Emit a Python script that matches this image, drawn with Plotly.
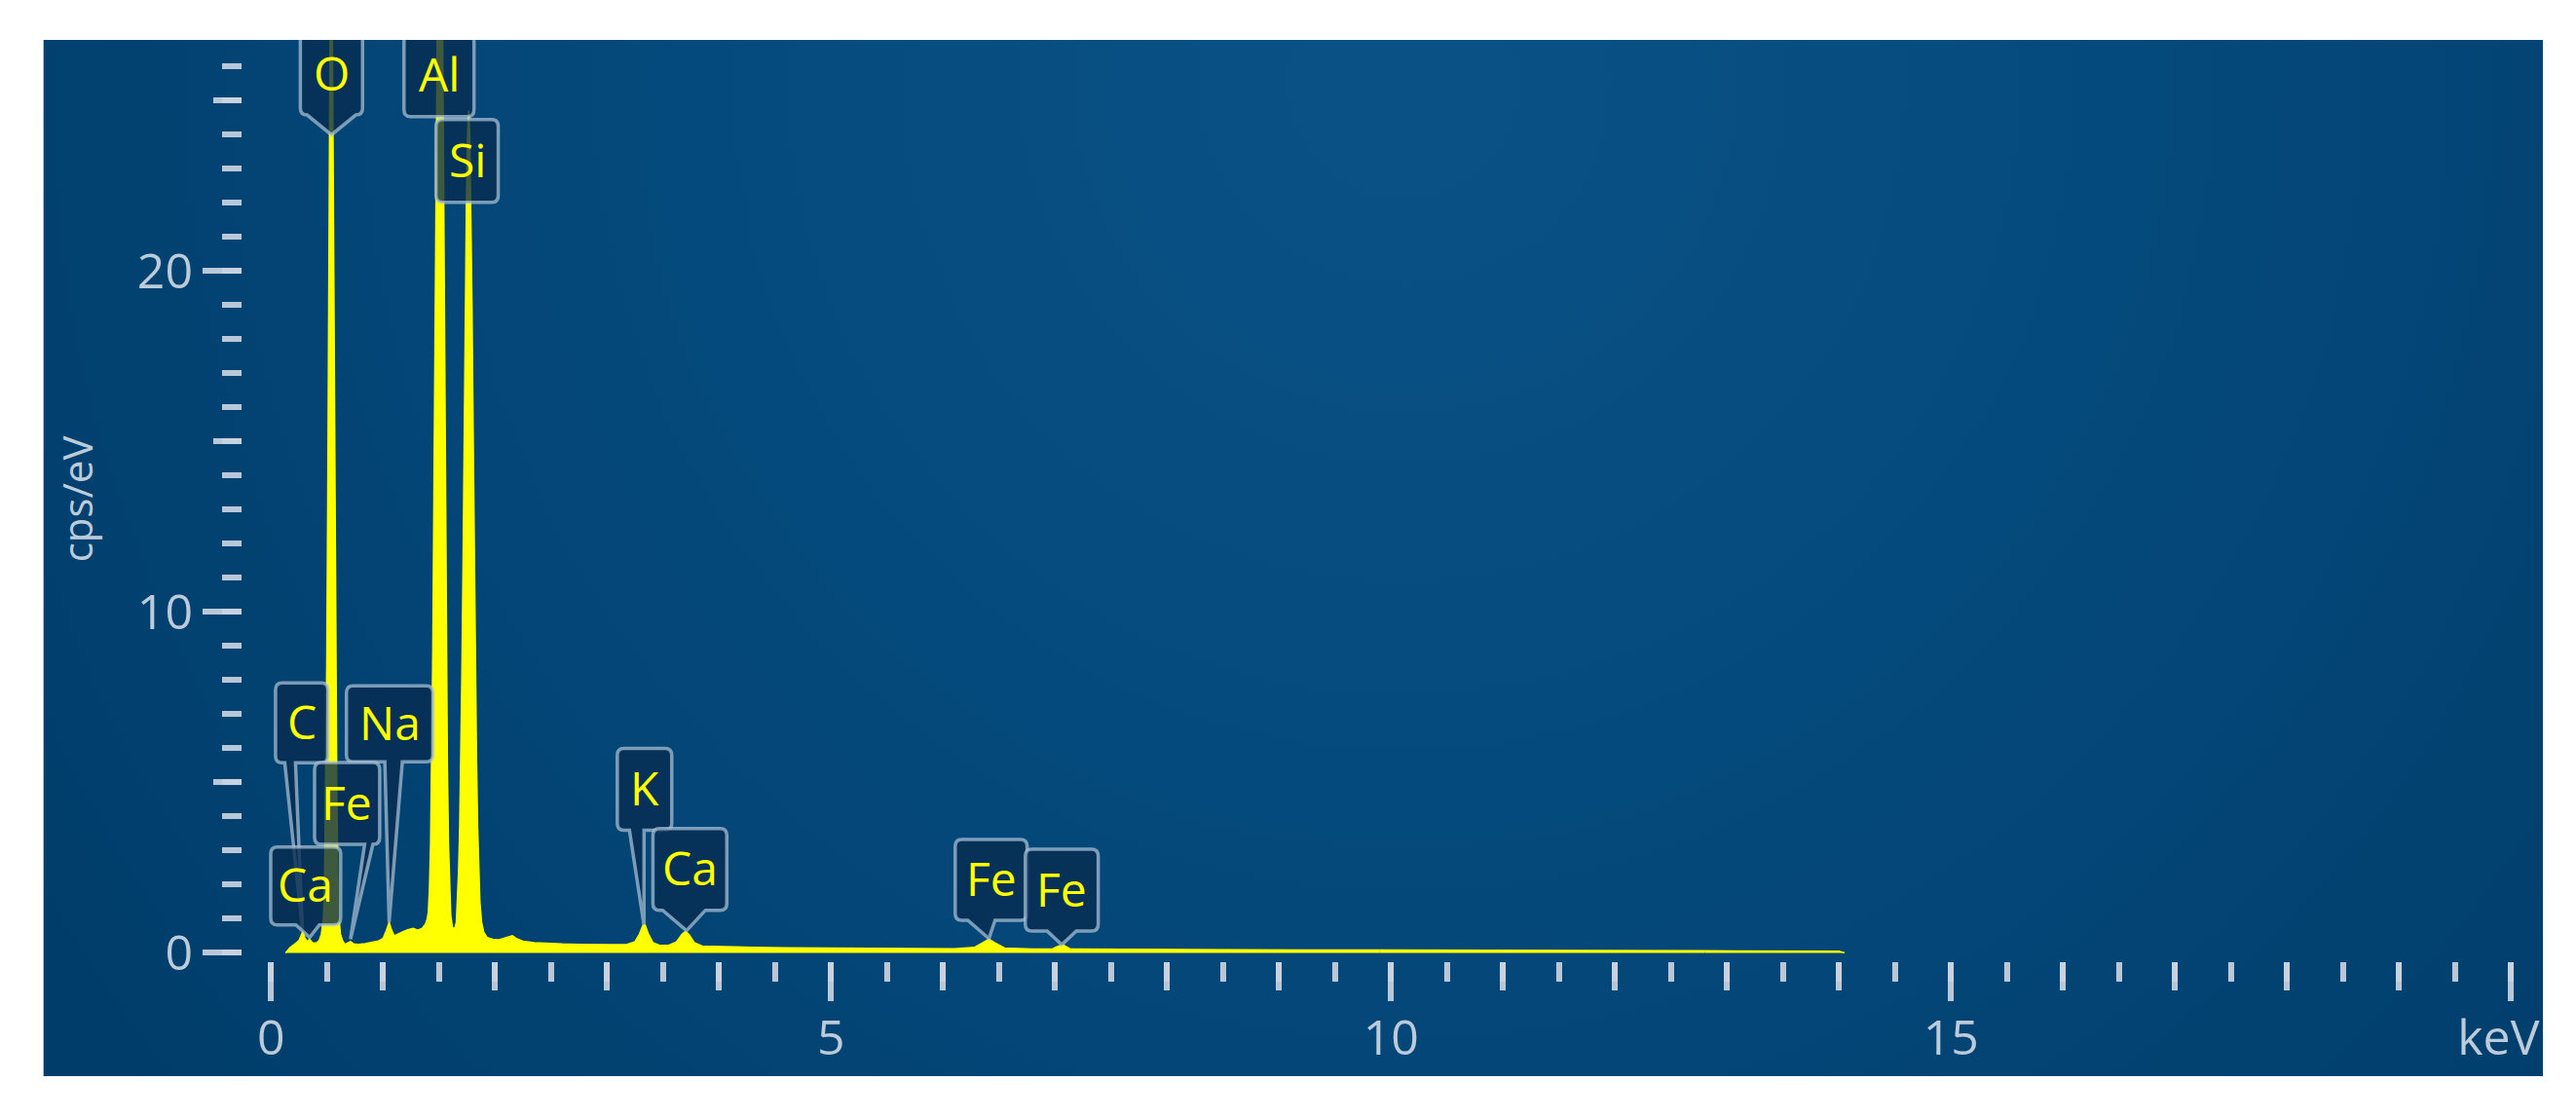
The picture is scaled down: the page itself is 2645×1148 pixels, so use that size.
import base64
import plotly.graph_objects as go

# ---------------- data ----------------
energy_kev = [
    0.13, 0.145, 0.17, 0.21, 0.25, 0.27, 0.285, 0.30, 0.32, 0.345, 0.37, 0.40, 0.43, 0.45,
    0.468, 0.478, 0.488, 0.498, 0.508, 0.518, 0.528, 0.538, 0.548, 0.558, 0.568, 0.578,
    0.588, 0.598, 0.608, 0.62, 0.64, 0.66, 0.69, 0.71, 0.74, 0.78, 0.84, 0.90, 0.96, 1.0,
    1.03, 1.055, 1.075, 1.10, 1.14, 1.18, 1.22, 1.27, 1.31, 1.35, 1.38, 1.395,
    1.405, 1.415, 1.425, 1.435, 1.445, 1.455, 1.465, 1.475, 1.485, 1.495, 1.505, 1.515,
    1.525, 1.535, 1.545, 1.555, 1.565, 1.575, 1.585, 1.595, 1.605, 1.62, 1.64,
    1.655, 1.665, 1.675, 1.685, 1.695, 1.705, 1.715, 1.725, 1.735, 1.745, 1.755, 1.765,
    1.775, 1.785, 1.795, 1.805, 1.815, 1.825, 1.835, 1.845, 1.855, 1.865, 1.88, 1.90,
    1.93, 1.98, 2.03, 2.08, 2.12, 2.155, 2.19, 2.25, 2.35, 2.45, 2.6, 2.75, 2.9, 3.05,
    3.18, 3.25, 3.29, 3.32, 3.34, 3.37, 3.41, 3.47, 3.55, 3.62, 3.67, 3.70, 3.73, 3.78,
    3.85, 4.0, 4.3, 4.6, 5.0, 5.4, 5.8, 6.1, 6.28, 6.36, 6.41, 6.46, 6.55, 6.8, 6.98,
    7.03, 7.08, 7.14, 7.5, 8.0, 8.6, 9.2, 9.9, 10.5, 11.2, 12.0, 12.8, 13.4, 14.0, 14.05,
]
cps_per_ev = [
    0.0, 0.05, 0.15, 0.25, 0.36, 0.52, 0.63, 0.46, 0.34, 0.40, 0.30, 0.28, 0.36, 0.55,
    1.0, 2.0, 4.6, 8.5, 14.0, 20.6, 27.3, 34.0, 27.3, 20.6, 14.0, 8.5,
    4.6, 2.2, 1.0, 0.55, 0.35, 0.25, 0.31, 0.33, 0.26, 0.25, 0.27, 0.30, 0.35, 0.42,
    0.65, 0.90, 0.68, 0.50, 0.55, 0.62, 0.68, 0.72, 0.66, 0.72, 0.85, 1.0,
    1.2, 1.9, 3.2, 5.5, 8.9, 13.5, 19.3, 25.3, 31.0, 35.0, 36.5, 35.0,
    31.0, 25.3, 19.3, 13.5, 8.9, 5.5, 3.2, 1.9, 1.1, 0.75, 0.70,
    0.9, 1.5, 2.4, 3.7, 5.7, 8.3, 11.4, 15.3, 18.9, 22.0, 24.0, 24.7,
    24.0, 22.0, 18.9, 15.3, 11.4, 8.3, 5.7, 3.7, 2.4, 1.5, 0.9, 0.6,
    0.45, 0.40, 0.38, 0.42, 0.46, 0.50, 0.42, 0.34, 0.30, 0.28, 0.26, 0.25, 0.24, 0.24,
    0.25, 0.33, 0.55, 0.80, 0.82, 0.55, 0.30, 0.22, 0.22, 0.32, 0.55, 0.63, 0.55, 0.30,
    0.20, 0.18, 0.16, 0.15, 0.14, 0.13, 0.12, 0.12, 0.16, 0.30, 0.40, 0.30, 0.14, 0.11, 0.12,
    0.20, 0.22, 0.11, 0.10, 0.095, 0.09, 0.085, 0.08, 0.075, 0.07, 0.065, 0.06, 0.05, 0.045, 0.0,
]

x_tick_major = [0, 5, 10, 15, 20]
x_tick_mid = [1, 2, 3, 4, 6, 7, 8, 9, 11, 12, 13, 14, 16, 17, 18, 19]
y_tick_major = [0, 10, 20]
y_tick_mid = [5, 15, 25]
x_unit_label = "keV"

# element labels: text, box centre (keV, cps/eV), pointer tip (keV, cps/eV)
label_text = ["O", "Al", "Si", "C", "Na", "Fe", "Ca", "K", "Ca", "Fe", "Fe"]
label_box_x = [0.54, 1.50, 1.751, 0.275, 1.06, 0.68, 0.31, 3.335, 3.74, 6.43, 7.06]
label_box_y = [25.78, 25.73, 23.23, 6.75, 6.72, 4.38, 1.96, 4.80, 2.45, 2.14, 1.84]
label_tip_x = [0.54, None, None, 0.28, 1.055, 0.71, 0.345, 3.33, 3.71, 6.41, 7.06]
label_tip_y = [24.0, None, None, 0.70, 0.90, 0.40, 0.45, 0.82, 0.65, 0.42, 0.24]

# ---------------- layout geometry / styles ----------------
W, H = 2645, 1148
ML, MR, MT, MB = 249, 29, 41, 161
PX_PER_KEV = 115.25
PX_PER_CPS = 35.0
X0_PX, Y0_PX = 278.3, 978.4
PLOT_W = W - ML - MR
PLOT_H = H - MT - MB
X_RANGE = [(ML - X0_PX) / PX_PER_KEV, (W - MR - X0_PX) / PX_PER_KEV]
Y_RANGE = [(Y0_PX - (H - MB)) / PX_PER_CPS, (Y0_PX - MT) / PX_PER_CPS]

# box sizes (px) and pointer base (offset from box centre, width), px
label_w = [64, 72, 64, 54, 89, 67, 72, 56, 76, 74, 75]
label_h = [84, 84, 85, 82, 78, 84, 80, 84, 84, 83, 84]
label_base_off = [0, 0, 0, -12, 4, 26, 2, -8, -6, -10, 0]
label_base_w = [50, 0, 0, 11, 18, 16, 24, 15, 44, 28, 30]

PANEL = (44, 41, 2616, 1105)  # x0, y0, x1, y1 in px
TICK_COLOR = "rgba(200,212,225,0.92)"
LABEL_FONT_COLOR = "rgb(188,203,218)"
YELLOW = "#ffff00"

fig = go.Figure()

# spectrum, drawn with fading intensity toward high energies
segments = [(0.0, 9.9, 1.0), (9.9, 12.8, 0.55), (12.8, 20.0, 0.25)]
for lo, hi, op in segments:
    xs = [e for e, c in zip(energy_kev, cps_per_ev) if lo <= e <= hi]
    ys = [c for e, c in zip(energy_kev, cps_per_ev) if lo <= e <= hi]
    fig.add_trace(go.Scatter(
        x=xs, y=ys, mode="lines", fill="tozeroy",
        line=dict(color=YELLOW, width=1.5), fillcolor=YELLOW,
        opacity=op, hoverinfo="skip", showlegend=False,
    ))

# dummy traces so the overlay axes (mid-length ticks) are drawn
fig.add_trace(go.Scatter(x=[None], y=[None], xaxis="x2", yaxis="y", showlegend=False, hoverinfo="skip"))
fig.add_trace(go.Scatter(x=[None], y=[None], xaxis="x", yaxis="y2", showlegend=False, hoverinfo="skip"))


def fx(v):
    return f"{v:.5f}"


def label_path(cx, cy, w, h, tipx, tipy, boff, bw, r=7):
    X = lambda px: cx + px / PX_PER_KEV
    Y = lambda py: cy - py / PX_PER_CPS  # py positive downward
    hw, hh = w / 2.0, h / 2.0
    p = [f"M{fx(X(-hw + r))},{fx(Y(-hh))}",
         f"L{fx(X(hw - r))},{fx(Y(-hh))}",
         f"Q{fx(X(hw))},{fx(Y(-hh))} {fx(X(hw))},{fx(Y(-hh + r))}",
         f"L{fx(X(hw))},{fx(Y(hh - r))}",
         f"Q{fx(X(hw))},{fx(Y(hh))} {fx(X(hw - r))},{fx(Y(hh))}"]
    if tipx is not None and bw > 0:
        left = max(-hw + r, boff - bw / 2.0)
        right = min(hw - r, boff + bw / 2.0)
        p.append(f"L{fx(X(right))},{fx(Y(hh))}")
        p.append(f"L{fx(tipx)},{fx(tipy)}")
        p.append(f"L{fx(X(left))},{fx(Y(hh))}")
    p += [f"L{fx(X(-hw + r))},{fx(Y(hh))}",
          f"Q{fx(X(-hw))},{fx(Y(hh))} {fx(X(-hw))},{fx(Y(hh - r))}",
          f"L{fx(X(-hw))},{fx(Y(-hh + r))}",
          f"Q{fx(X(-hw))},{fx(Y(-hh))} {fx(X(-hw + r))},{fx(Y(-hh))}",
          "Z"]
    return " ".join(p)


shapes = []
annotations = []
for i, t in enumerate(label_text):
    path = label_path(label_box_x[i], label_box_y[i], label_w[i], label_h[i],
                      label_tip_x[i], label_tip_y[i], label_base_off[i], label_base_w[i])
    shapes.append(dict(type="path", xref="x", yref="y", path=path,
                       fillcolor="rgba(8,44,80,0.78)",
                       line=dict(color="rgba(175,198,218,0.7)", width=3.5),
                       layer="above"))
    annotations.append(dict(x=label_box_x[i], y=label_box_y[i], xref="x", yref="y",
                            text=t, showarrow=False, yshift=2,
                            xanchor="center", yanchor="middle",
                            font=dict(family="Open Sans, Noto Sans, sans-serif",
                                      size=48, color=YELLOW)))

# y-axis title
annotations.append(dict(x=(78 - ML) / PLOT_W, y=1 - (512 - MT) / PLOT_H,
                        xref="paper", yref="paper", text="cps/eV", textangle=-90,
                        xanchor="center", yanchor="middle", showarrow=False,
                        font=dict(family="Open Sans, sans-serif", size=42,
                                  color=LABEL_FONT_COLOR)))

# background panel with a soft radial gradient
pw, ph = PANEL[2] - PANEL[0], PANEL[3] - PANEL[1]
svg = (f'<svg xmlns="http://www.w3.org/2000/svg" width="{pw}" height="{ph}" '
       f'viewBox="0 0 {pw} {ph}" preserveAspectRatio="none">'
       f'<defs><radialGradient id="g" cx="1400" cy="40" r="1650" gradientUnits="userSpaceOnUse">'
       f'<stop offset="0" stop-color="#0a5286"/>'
       f'<stop offset="0.45" stop-color="#054a7c"/>'
       f'<stop offset="1" stop-color="#003d6b"/>'
       f'</radialGradient></defs>'
       f'<rect width="{pw}" height="{ph}" fill="url(#g)"/></svg>')
src = "data:image/svg+xml;base64," + base64.b64encode(svg.encode()).decode()
images = [dict(source=src, xref="paper", yref="paper",
               x=(PANEL[0] - ML) / PLOT_W, y=1 - (PANEL[1] - MT) / PLOT_H,
               sizex=pw / PLOT_W, sizey=ph / PLOT_H,
               xanchor="left", yanchor="top", sizing="stretch", layer="below")]

tickfont = dict(family="Open Sans, sans-serif", size=50, color=LABEL_FONT_COLOR)
common = dict(showgrid=False, zeroline=False, showline=False, fixedrange=True)

fig.update_layout(
    width=W, height=H,
    margin=dict(l=ML, r=MR, t=MT, b=MB, pad=0),
    paper_bgcolor="white", plot_bgcolor="rgba(0,0,0,0)",
    showlegend=False,
    xaxis=dict(range=X_RANGE, tickmode="array", tickvals=x_tick_major,
               ticktext=[str(v) for v in x_tick_major[:-1]] + [x_unit_label + "&nbsp;&nbsp;"],
               ticks="outside", ticklen=40, tickwidth=6, tickcolor=TICK_COLOR,
               ticklabelstandoff=-5,
               minor=dict(tickmode="linear", tick0=0, dtick=0.5, ticks="outside",
                          ticklen=20, tickwidth=6, tickcolor=TICK_COLOR),
               tickfont=tickfont, **common),
    xaxis2=dict(range=X_RANGE, overlaying="x", anchor="y", side="bottom",
                tickmode="array", tickvals=x_tick_mid, ticks="outside",
                ticklen=29, tickwidth=6, tickcolor=TICK_COLOR,
                showticklabels=False, **common),
    yaxis=dict(range=Y_RANGE, tickmode="array", tickvals=y_tick_major,
               ticktext=[str(v) for v in y_tick_major],
               ticks="outside", ticklen=40, tickwidth=6, tickcolor=TICK_COLOR,
               minor=dict(tickmode="linear", tick0=0, dtick=1, ticks="outside",
                          ticklen=20, tickwidth=6, tickcolor=TICK_COLOR),
               tickfont=tickfont, **common),
    yaxis2=dict(range=Y_RANGE, overlaying="y", anchor="x", side="left",
                tickmode="array", tickvals=y_tick_mid, ticks="outside",
                ticklen=29, tickwidth=6, tickcolor=TICK_COLOR,
                showticklabels=False, **common),
    shapes=shapes, annotations=annotations, images=images,
)

fig.write_html("out.html",
               config={"displayModeBar": False, "staticPlot": True},
               post_script="document.body.style.margin='0';document.body.style.overflow='hidden';")
